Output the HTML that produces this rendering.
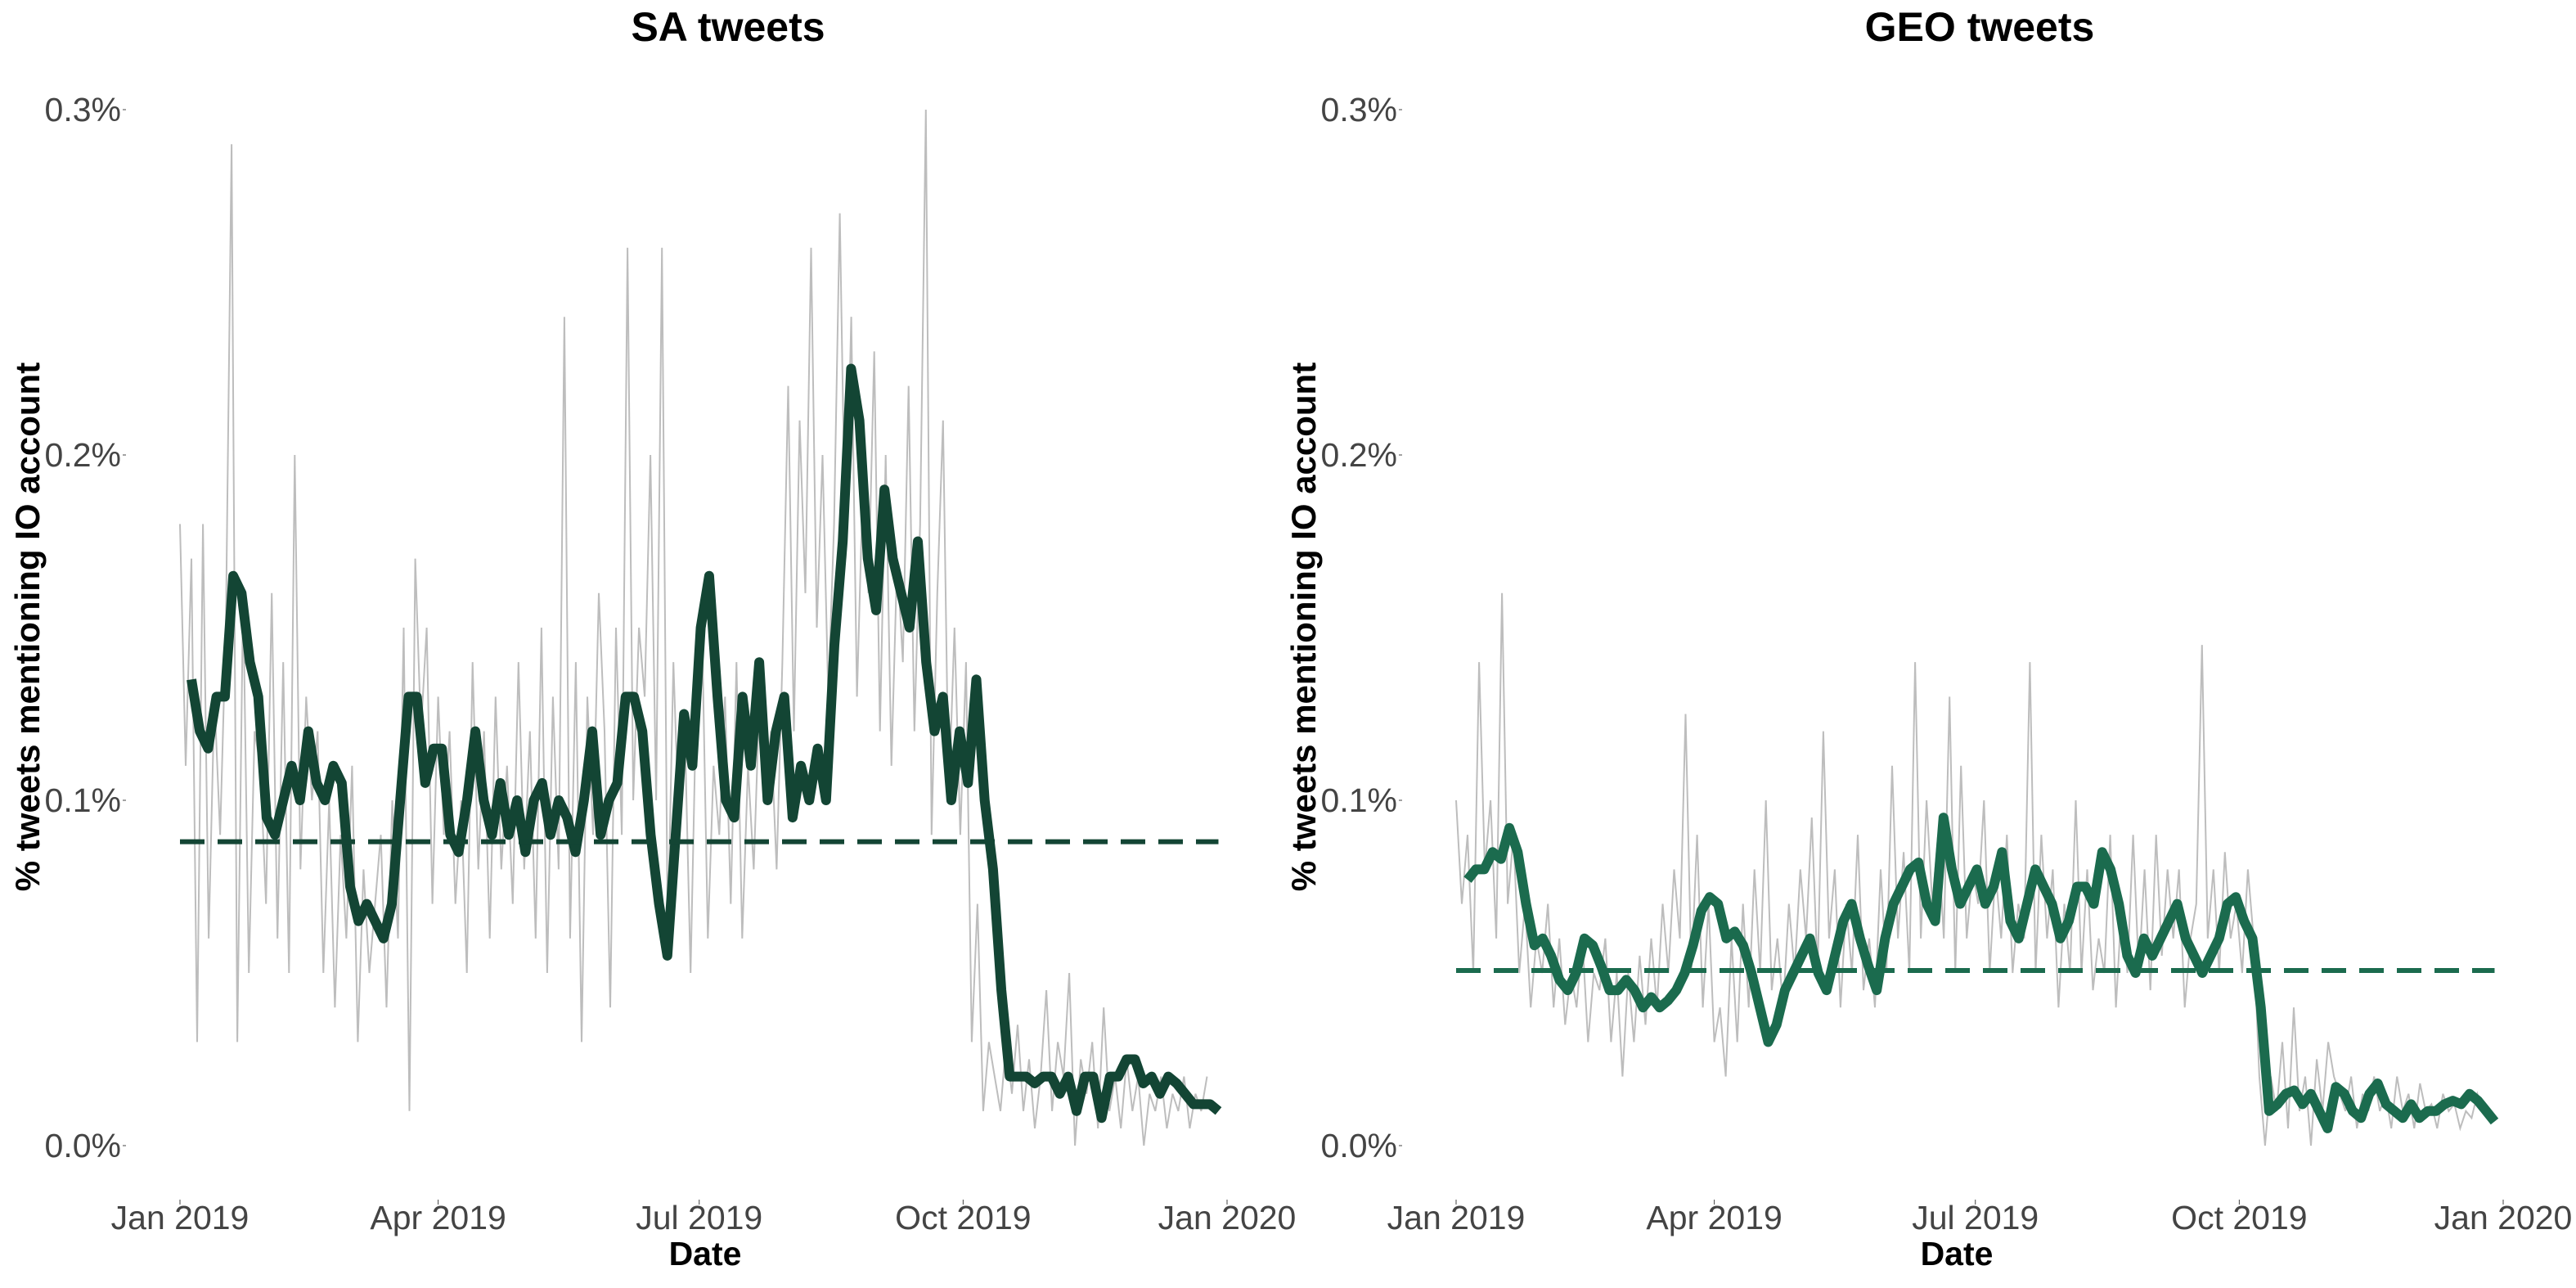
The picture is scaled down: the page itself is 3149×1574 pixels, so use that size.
<!DOCTYPE html>
<html><head><meta charset="utf-8"><style>
html,body{margin:0;padding:0;background:#fff;}
svg{display:block;font-family:"Liberation Sans",sans-serif;}
</style></head><body>
<svg id="chart" width="3149" height="1574" viewBox="0 0 3149 1574" xmlns="http://www.w3.org/2000/svg"></svg>
<script>
const yTicks=[0,0.1,0.2,0.3];
const yTickLabels=["0.0%","0.1%","0.2%","0.3%"];
const xTickDays=[0,90,181,273,365];
const xTickLabels=["Jan 2019","Apr 2019","Jul 2019","Oct 2019","Jan 2020"];
const saRaw=[0.18,0.11,0.17,0.03,0.18,0.06,0.13,0.09,0.15,0.29,0.03,0.16,0.05,0.12,0.11,0.07,0.16,0.06,0.14,0.05,0.2,0.08,0.13,0.1,0.12,0.05,0.1,0.04,0.09,0.06,
0.11,0.03,0.08,0.05,0.07,0.09,0.04,0.1,0.06,0.15,0.01,0.17,0.12,0.15,0.07,0.13,0.09,0.12,0.07,0.1,0.05,0.14,0.08,0.12,0.06,0.13,0.08,0.11,0.07,0.14,
0.08,0.12,0.06,0.15,0.05,0.13,0.08,0.24,0.06,0.14,0.03,0.13,0.09,0.16,0.12,0.04,0.15,0.09,0.26,0.1,0.15,0.13,0.2,0.1,0.26,0.06,0.14,0.09,0.12,0.05,
0.13,0.15,0.06,0.11,0.09,0.13,0.07,0.14,0.06,0.11,0.08,0.13,0.1,0.12,0.08,0.14,0.22,0.12,0.21,0.16,0.26,0.15,0.2,0.13,0.18,0.27,0.17,0.24,0.13,0.19,
0.16,0.23,0.12,0.2,0.11,0.17,0.14,0.22,0.12,0.18,0.3,0.09,0.16,0.21,0.1,0.15,0.09,0.14,0.03,0.07,0.01,0.03,0.02,0.01,0.03,0.015,0.035,0.01,0.025,0.005,
0.02,0.045,0.01,0.03,0.02,0.05,0.0,0.025,0.015,0.03,0.005,0.04,0.01,0.02,0.005,0.025,0.01,0.02,0.0,0.015,0.01,0.02,0.005,0.015,0.01,0.02,0.005,0.015,0.01,0.02];
const saSmooth=[0.135,0.12,0.115,0.13,0.13,0.165,0.16,0.14,0.13,0.095,0.09,0.1,0.11,0.1,0.12,0.105,0.10,0.11,0.105,0.075,0.065,0.07,0.065,0.06,0.07,0.1,0.13,0.13,0.105,0.115,0.115,0.09,0.085,0.1,0.12,0.1,0.09,0.105,0.09,0.1,0.085,0.1,0.105,0.09,0.1,0.095,0.085,0.1,0.12,0.09,0.1,0.105,0.13,0.13,0.12,0.09,0.07,0.055,0.09,0.125,0.11,0.15,0.165,0.13,0.1,0.095,0.13,0.11,0.14,0.1,0.12,0.13,0.095,0.11,0.1,0.115,0.1,0.145,0.175,0.225,0.21,0.17,0.155,0.19,0.17,0.16,0.15,0.175,0.14,0.12,0.13,0.1,0.12,0.105,0.135,0.1,0.08,0.045,0.02,0.02,0.02,0.018,0.02,0.02,0.015,0.02,0.01,0.02,0.02,0.008,0.02,0.02,0.025,0.025,0.018,0.02,0.015,0.02,0.018,0.015,0.012,0.012,0.012,0.01];
const saMean=0.088;
const geoRaw=[0.1,0.07,0.09,0.05,0.14,0.08,0.1,0.06,0.16,0.07,0.09,0.05,0.07,0.04,0.06,0.05,0.07,0.04,0.06,0.035,0.05,0.04,0.06,0.03,0.05,0.045,0.06,0.03,0.05,0.02,
0.05,0.03,0.055,0.035,0.06,0.04,0.07,0.05,0.08,0.06,0.125,0.05,0.09,0.04,0.07,0.03,0.04,0.02,0.06,0.03,0.07,0.04,0.08,0.05,0.1,0.045,0.06,0.04,0.07,0.05,
0.08,0.06,0.095,0.05,0.12,0.06,0.08,0.04,0.07,0.05,0.09,0.045,0.06,0.04,0.08,0.05,0.11,0.06,0.085,0.05,0.14,0.06,0.1,0.07,0.09,0.06,0.13,0.05,0.11,0.06,
0.08,0.07,0.1,0.05,0.08,0.06,0.09,0.05,0.07,0.06,0.14,0.05,0.09,0.06,0.08,0.04,0.07,0.05,0.1,0.05,0.08,0.045,0.06,0.05,0.09,0.04,0.07,0.05,0.09,0.05,
0.08,0.045,0.09,0.055,0.08,0.06,0.08,0.04,0.06,0.07,0.145,0.06,0.08,0.05,0.085,0.06,0.07,0.05,0.08,0.06,0.02,0.0,0.02,0.01,0.03,0.005,0.04,0.01,0.02,0.0,0.025,0.01,0.03,0.02,
0.015,0.01,0.02,0.005,0.015,0.01,0.02,0.01,0.015,0.005,0.02,0.01,0.015,0.005,0.018,0.01,0.012,0.005,0.015,0.01,0.012,0.005,0.01,0.008,0.015,0.01];
const geoSmooth=[0.077,0.08,0.08,0.085,0.083,0.092,0.085,0.07,0.058,0.06,0.055,0.048,0.045,0.05,0.06,0.058,0.052,0.045,0.045,0.048,0.045,0.04,0.043,0.04,0.042,0.045,0.05,0.058,0.068,0.072,0.07,0.06,0.062,0.058,0.05,0.04,0.03,0.035,0.045,0.05,0.055,0.06,0.05,0.045,0.055,0.065,0.07,0.06,0.052,0.045,0.06,0.07,0.075,0.08,0.082,0.07,0.065,0.095,0.08,0.07,0.075,0.08,0.07,0.075,0.085,0.065,0.06,0.07,0.08,0.075,0.07,0.06,0.065,0.075,0.075,0.07,0.085,0.08,0.07,0.055,0.05,0.06,0.055,0.06,0.065,0.07,0.06,0.055,0.05,0.055,0.06,0.07,0.072,0.065,0.06,0.04,0.01,0.012,0.015,0.016,0.012,0.015,0.01,0.005,0.017,0.015,0.01,0.008,0.015,0.018,0.012,0.01,0.008,0.012,0.008,0.01,0.01,0.012,0.013,0.012,0.015,0.013,0.01,0.007];
const geoMean=0.0507;

const NS="http://www.w3.org/2000/svg";
const svg=document.getElementById('chart');
function mk(tag,attrs,parent){const e=document.createElementNS(NS,tag);for(const k in attrs)e.setAttribute(k,attrs[k]);(parent||svg).appendChild(e);return e;}

function panel(x0,title,raw,smooth,mean,color,key,titleX,ytX){
  const g=mk('g',{});
  
  
  const W=1280;
  const xs=d=>x0+d/365*W;
  const ys=v=>1400-v/0.1*422;
  const t=mk('text',{x:titleX,y:50,'text-anchor':'middle','font-size':50,'font-weight':'bold',fill:'#000'},g);
  t.textContent=title;
  
  
  const yt=mk('text',{x:0,y:0,'text-anchor':'middle','font-size':42,'font-weight':'bold',fill:'#000',transform:`translate(${ytX},766) rotate(-90)`},g);
  yt.textContent='% tweets mentioning IO account';
  
  
  yTicks.forEach((v,i)=>{
    const l=mk('text',{x:x0-72,y:ys(v)+14,'text-anchor':'end','font-size':41,fill:'#444'},g);
    l.textContent=yTickLabels[i];
    
    
    mk('line',{x1:x0-70,x2:x0-66,y1:ys(v),y2:ys(v),stroke:'#444','stroke-width':1},g);
  });
  xTickDays.forEach((d,i)=>{
    mk('line',{x1:xs(d),x2:xs(d),y1:1466,y2:1472,stroke:'#444','stroke-width':1},g);
    const l=mk('text',{x:xs(d),y:1502,'text-anchor':'middle','font-size':41,fill:'#444'},g);
    l.textContent=xTickLabels[i];
    
    
  });
  const xt=mk('text',{x:titleX-28,y:1546,'text-anchor':'middle','font-size':41,'font-weight':'bold',fill:'#000'},g);
  xt.textContent='Date';
  
  
  const rp=raw.map((v,i)=>`${i?'L':'M'}${xs(i*2).toFixed(1)},${ys(v).toFixed(1)}`).join('');
  const r=mk('path',{d:rp,fill:'none',stroke:'#bdbdbd','stroke-width':2},g);
  
  
  const n=smooth.length;
  const sp=smooth.map((v,i)=>`${i?'L':'M'}${xs(4+i*(358/(n-1))).toFixed(1)},${ys(v).toFixed(1)}`).join('');
  const s=mk('path',{d:sp,fill:'none',stroke:color,'stroke-width':12,'stroke-linejoin':'round'},g);
  
  
  const m=mk('line',{x1:xs(0),x2:xs(362),y1:ys(mean),y2:ys(mean),stroke:color,'stroke-width':6,'stroke-dasharray':'30 16'},g);
  
  
}
panel(220,'SA tweets',saRaw,saSmooth,saMean,'#134534','sa',890,48);
panel(1780,'GEO tweets',geoRaw,geoSmooth,geoMean,'#1b6b4e','geo',2420,1608);
</script>
</body></html>
